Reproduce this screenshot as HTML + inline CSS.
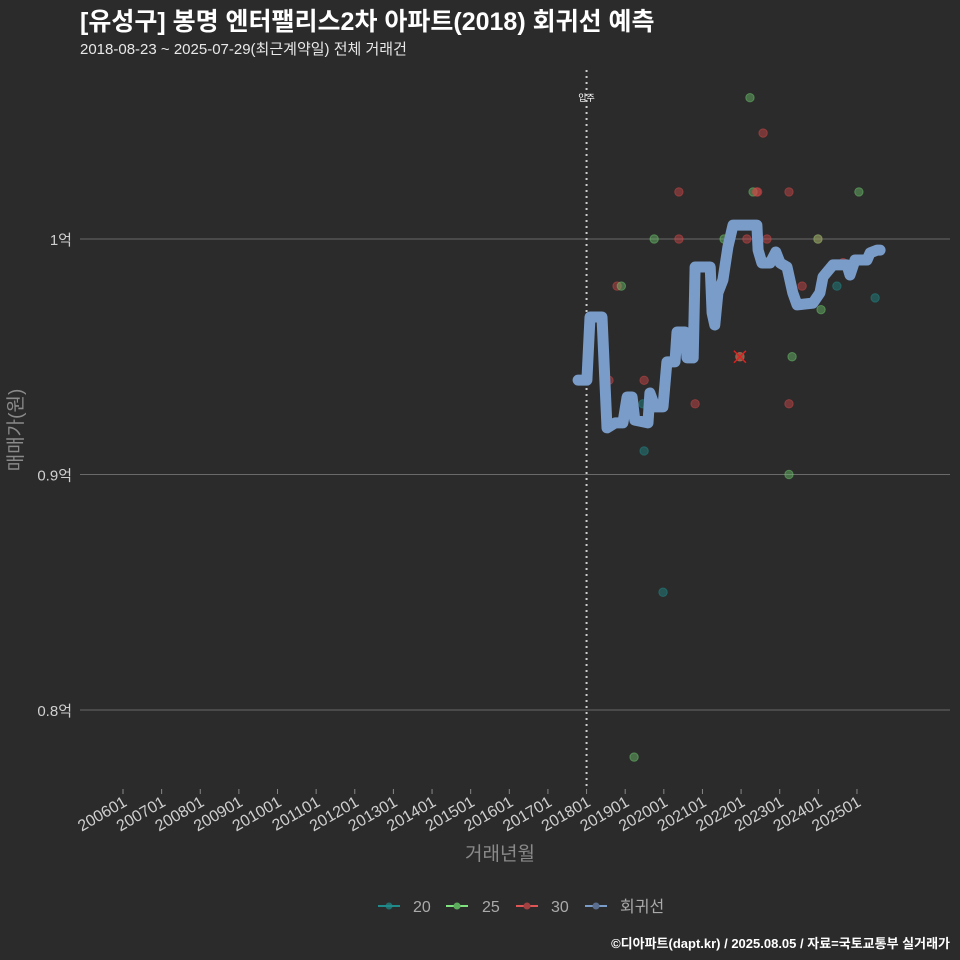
<!DOCTYPE html>
<html><head><meta charset="utf-8">
<style>
body{margin:0;background:#2b2b2b;}
svg{display:block;font-family:"Liberation Sans","Noto Sans CJK KR",sans-serif;}
</style></head>
<body>
<svg id="chart" width="960" height="960" viewBox="0 0 960 960" xmlns="http://www.w3.org/2000/svg">
<rect width="960" height="960" fill="#2b2b2b"/>
<text x="80" y="30" fill="#ffffff" font-size="25" font-weight="bold">[유성구] 봉명 엔터팰리스2차 아파트(2018) 회귀선 예측</text>
<text x="80" y="54" fill="#e8e8e8" font-size="15">2018-08-23 ~ 2025-07-29(최근계약일) 전체 거래건</text>
<g id="grid"></g>
<g id="marks"></g>
<text transform="translate(22,430) rotate(-90)" text-anchor="middle" fill="#8a8a8a" font-size="19">매매가(원)</text>
<text x="500" y="860" text-anchor="middle" fill="#8a8a8a" font-size="19">거래년월</text>
<g font-size="16" fill="#aaaaaa">
 <g><line x1="378" y1="906" x2="400" y2="906" stroke="#1f8a8a" stroke-width="2"/><circle cx="389" cy="906" r="3.5" fill="#1f8a8a" opacity="0.7"/><text x="413" y="912">20</text></g>
 <g><line x1="446" y1="906" x2="468" y2="906" stroke="#7ee27e" stroke-width="2"/><circle cx="457" cy="906" r="3.5" fill="#5cab5c"/><text x="482" y="912">25</text></g>
 <g><line x1="516" y1="906" x2="538" y2="906" stroke="#e05555" stroke-width="2"/><circle cx="527" cy="906" r="3.5" fill="#a04040"/><text x="551" y="912">30</text></g>
 <g><line x1="585" y1="906" x2="607" y2="906" stroke="#7a9cc8" stroke-width="2"/><circle cx="596" cy="906" r="3.5" fill="#5a6e90"/><text x="620" y="912">회귀선</text></g>
</g>
<text x="950" y="948" text-anchor="end" fill="#ffffff" font-size="13" font-weight="bold">©디아파트(dapt.kr) / 2025.08.05 / 자료=국토교통부 실거래가</text>
</svg>
<script>
const xTicks=["200601","200701","200801","200901","201001","201101","201201","201301","201401","201501","201601","201701","201801","201901","202001","202101","202201","202301","202401","202501"];
const yTicks=[8000,9000,10000];
const yTickLabels=["0.8억","0.9억","1억"];
const lineYears=[2017.78,2018.01,2018.09,2018.40,2018.53,2018.74,2018.94,2019.05,2019.18,2019.25,2019.59,2019.64,2019.77,2019.98,2020.08,2020.29,2020.34,2020.55,2020.60,2020.76,2020.81,2021.20,2021.25,2021.32,2021.40,2021.53,2021.66,2021.79,2022.41,2022.44,2022.54,2022.75,2022.90,2023.01,2023.19,2023.34,2023.45,2023.86,2024.04,2024.12,2024.38,2024.74,2024.82,2024.95,2025.26,2025.34,2025.52,2025.60];
const lineValues=[9401,9401,9669,9669,9198,9219,9219,9329,9329,9231,9219,9346,9287,9287,9478,9478,9605,9605,9495,9495,9881,9881,9686,9635,9771,9826,9966,10059,10059,9953,9898,9898,9945,9898,9881,9771,9720,9728,9771,9839,9890,9890,9847,9911,9911,9941,9953,9953];
const ptYears=[2022.23,2022.57,2020.39,2022.31,2022.40,2022.43,2023.24,2025.05,2019.75,2020.39,2021.56,2022.15,2022.67,2023.99,2023.99,2018.79,2018.90,2023.58,2024.48,2025.47,2024.07,2021.97,2021.97,2023.32,2018.58,2019.49,2019.46,2020.81,2023.24,2019.49,2023.24,2019.98,2019.23,2024.64];
const ptValues=[10600,10450,10200,10200,10200,10200,10200,10200,10000,10000,10000,10000,10000,10000,10000,9800,9800,9800,9800,9750,9700,9500,9500,9500,9400,9400,9300,9300,9300,9100,9000,8500,7800,9900];
const ptGroups=[25,30,30,25,30,30,30,25,25,30,25,30,30,30,25,30,25,30,20,20,25,25,30,25,30,30,20,30,30,20,25,20,25,30];
const colors={20:"#1f8a8a",25:"#6cc46c",30:"#d04848"};
const NS="http://www.w3.org/2000/svg";
function X(year){return 123+(year-2006)*38.63;}
function Y(v){return 239+(10000-v)*0.2355;}
function mk(tag,attrs,parent){const e=document.createElementNS(NS,tag);for(const k in attrs)e.setAttribute(k,attrs[k]);parent.appendChild(e);return e;}
const grid=document.getElementById('grid'),marks=document.getElementById('marks');
yTicks.forEach((v,i)=>{
 const l=mk('line',{x1:80,x2:950,y1:Y(v),y2:Y(v),stroke:'#6a6a6a','stroke-width':1},grid);
 
 
 const t=mk('text',{x:72,y:Y(v)+6,'text-anchor':'end',fill:'#cfcfcf','font-size':15},grid);
 t.textContent=yTickLabels[i];
 
 
});
xTicks.forEach(s=>{
 const yr=+s.slice(0,4);const x=X(yr);
 const tk=mk('line',{x1:x,x2:x,y1:789,y2:794,stroke:'#888','stroke-width':1},grid);
 
 
 const t=mk('text',{transform:`translate(${x+5},${805}) rotate(-30)`,'text-anchor':'end',fill:'#cfcfcf','font-size':16},grid);
 t.textContent=s;
 
 
});
const vl=mk('line',{x1:X(2018),x2:X(2018),y1:70,y2:790,stroke:'#cccccc','stroke-width':2,'stroke-dasharray':'2,4'},grid);


const vt=mk('text',{x:X(2018),y:101,'text-anchor':'middle',fill:'#fff','font-size':9},grid);
vt.textContent='입주';


ptYears.forEach((yr,i)=>{
 const c=mk('circle',{cx:X(yr),cy:Y(ptValues[i]),r:4.2,fill:colors[ptGroups[i]],'fill-opacity':0.45,stroke:colors[ptGroups[i]],'stroke-opacity':0.5},marks);
 
 
});
const d=lineYears.map((yr,i)=>(i?'L':'M')+X(yr).toFixed(1)+','+Y(lineValues[i]).toFixed(1)).join(' ');
const p=mk('path',{d:d,fill:'none',stroke:'#7a9cc8','stroke-width':11,'stroke-linejoin':'round','stroke-linecap':'round'},marks);


const cx=X(2021.97),cy=Y(9500);
const xm=mk('path',{d:`M${cx-6},${cy-6}L${cx+6},${cy+6}M${cx+6},${cy-6}L${cx-6},${cy+6}`,stroke:'#e02020','stroke-width':1.5},marks);


</script>
</body></html>
